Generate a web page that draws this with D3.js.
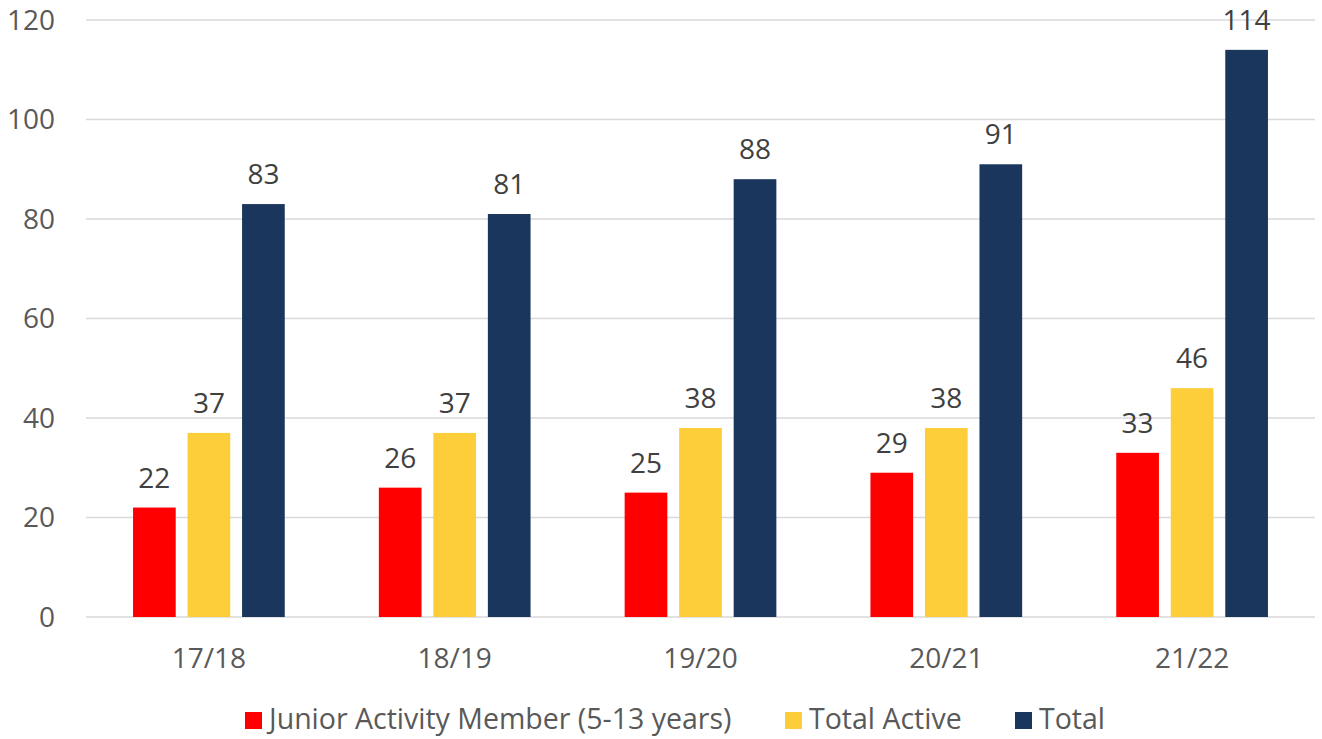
<!DOCTYPE html>
<html>
<head>
<meta charset="utf-8">
<script src="https://cdn.jsdelivr.net/npm/d3@7"></script>
<style>
  body { margin: 0; background: #fff; }
  text { font-family: "Open Sans", sans-serif; }
</style>
</head>
<body>
<svg id="chart"></svg>
<script>
const seasons = ['17/18', '18/19', '19/20', '20/21', '21/22'];
const seriesNames = ['Junior Activity Member (5-13 years)', 'Total Active', 'Total'];
const junior = [22, 26, 25, 29, 33];
const totalActive = [37, 37, 38, 38, 46];
const total = [83, 81, 88, 91, 114];
const yTicks = [0, 20, 40, 60, 80, 100, 120];
const colors = ['#ff0000', '#fdcd3a', '#1a365d'];

const width = 1322, height = 739;
const marginLeft = 86, marginRight = 7, marginTop = 20, marginBottom = 122;

const svg = d3.select('#chart')
  .attr('width', width)
  .attr('height', height)
  .attr('viewBox', [0, 0, width, height]);

const values = [junior, totalActive, total];
const rows = seasons.map((s, i) => ({
  season: s,
  vals: seriesNames.map((n, j) => ({ name: n, value: values[j][i], color: colors[j] }))
}));

const x0 = d3.scaleBand()
  .domain(seasons)
  .range([marginLeft, width - marginRight])
  .padding(0);

const x1 = d3.scaleBand()
  .domain(seriesNames)
  .range([0, x0.bandwidth()])
  .paddingInner(0.217)
  .paddingOuter(0.863);

const y = d3.scaleLinear()
  .domain([0, 120])
  .range([height - marginBottom, marginTop]);

// gridlines
svg.append('g')
  .selectAll('line')
  .data(yTicks)
  .enter().append('line')
  .attr('x1', marginLeft)
  .attr('x2', width - marginRight)
  .attr('y1', d => y(d))
  .attr('y2', d => y(d))
  .attr('stroke', '#d9d9d9')
  .attr('stroke-width', 1.5);

// y labels
svg.append('g')
  .selectAll('text')
  .data(yTicks)
  .enter().append('text')
  .text(d => d)
  .attr('x', 55)
  .attr('y', d => y(d))
  .attr('dy', '0.35em')
  .style('text-anchor', 'end')
  .style('font-size', '28px')
  .attr('fill', '#595959');

// bars
const groups = svg.append('g')
  .selectAll('g')
  .data(rows)
  .enter().append('g')
  .attr('transform', d => `translate(${x0(d.season)},0)`);

groups.selectAll('rect')
  .data(d => d.vals)
  .enter().append('rect')
  .attr('x', d => x1(d.name))
  .attr('y', d => y(d.value))
  .attr('width', x1.bandwidth())
  .attr('height', d => y(0) - y(d.value))
  .attr('fill', d => d.color);

// value labels
groups.selectAll('text')
  .data(d => d.vals)
  .enter().append('text')
  .text(d => d.value)
  .attr('x', d => x1(d.name) + x1.bandwidth() / 2)
  .attr('y', d => y(d.value) - 20)
  .style('text-anchor', 'middle')
  .style('font-size', '28px')
  .attr('fill', '#404040');

// x labels
svg.append('g')
  .selectAll('text')
  .data(seasons)
  .enter().append('text')
  .text(d => d)
  .attr('x', d => x0(d) + x0.bandwidth() / 2)
  .attr('y', 668)
  .style('text-anchor', 'middle')
  .style('font-size', '28px')
  .attr('fill', '#595959');

// legend
const legendX = [245, 785, 1015];
const legend = svg.append('g')
  .selectAll('g')
  .data(seriesNames)
  .enter().append('g')
  .attr('transform', (d, i) => `translate(${legendX[i]},0)`);

legend.append('rect')
  .attr('x', 0)
  .attr('y', 712)
  .attr('width', 17)
  .attr('height', 17)
  .attr('fill', (d, i) => colors[i]);

legend.append('text')
  .text(d => d)
  .attr('x', 24)
  .attr('y', 729)
  .style('font-size', '28.5px')
  .attr('fill', '#595959');
</script>
</body>
</html>
